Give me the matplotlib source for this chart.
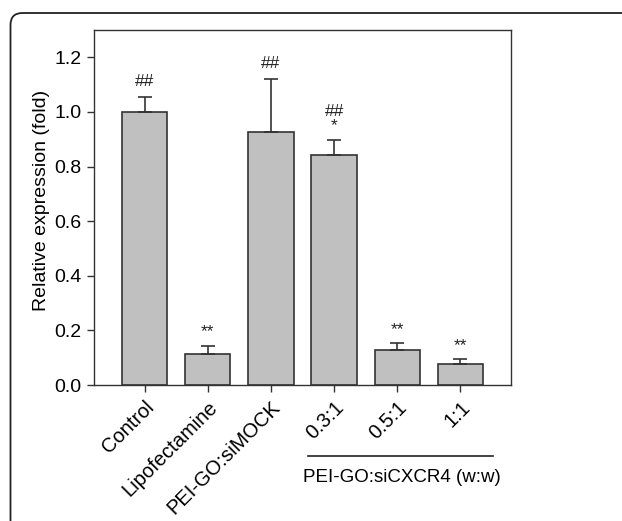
import matplotlib
matplotlib.use("Agg")
import matplotlib.pyplot as plt
from matplotlib.patches import FancyBboxPatch
from matplotlib.transforms import blended_transform_factory
import numpy as np

categories = ["Control", "Lipofectamine", "PEI-GO:siMOCK", "0.3:1", "0.5:1", "1:1"]
values = [1.0, 0.115, 0.927, 0.842, 0.128, 0.078]
errors = [0.055, 0.029, 0.193, 0.057, 0.026, 0.018]
marks = [["##"], ["**"], ["##"], ["*", "##"], ["**"], ["**"]]
yticks = [0.0, 0.2, 0.4, 0.6, 0.8, 1.0, 1.2]
group_label = "PEI-GO:siCXCR4 (w:w)"
ylabel = "Relative expression (fold)"

plt.rcParams['font.family'] = ['Liberation Sans', 'DejaVu Sans']

fig = plt.figure(figsize=(6.22, 5.21), dpi=100)
ax = fig.add_axes([0.1511, 0.261, 0.6704, 0.6814])

x = np.arange(len(categories))
ax.bar(x, values, width=0.72, color="#c0c0c0", edgecolor="#333333", linewidth=1.2, zorder=2)
ax.errorbar(x, values, yerr=[np.zeros(len(values)), errors], fmt="none",
            ecolor="#333333", elinewidth=1.2, capsize=5, capthick=1.2, zorder=3)

line_gap = 0.052
for xi, v, e, ms in zip(x, values, errors, marks):
    for k, m in enumerate(ms):
        gap = 0.058 if m == "##" else 0.05
        if k > 0:
            gap = 0.05 + k * line_gap
        ax.text(xi, v + e + gap, m, ha="center", va="center",
                fontsize=12.5, color="#222222")

ax.set_xlim(-0.8, 5.8)
ax.set_ylim(0, 1.3)
ax.set_yticks(yticks)
ax.set_yticklabels([f"{t:.1f}" for t in yticks], fontsize=14)
ax.set_xticks(x)
ax.set_xticklabels(categories, rotation=45, ha="right", rotation_mode="anchor", fontsize=14.5)
ax.tick_params(direction="out", length=5, width=1, color="#333333", pad=4)
for s in ax.spines.values():
    s.set_linewidth(1)
    s.set_color("#333333")
ax.set_ylabel(ylabel, fontsize=14)
ax.yaxis.set_label_coords(-0.105, 0.52)

# group line and label below rotated ticks
tr = blended_transform_factory(ax.transData, fig.transFigure)
line_y = 1 - 456 / 521
ax.plot([2.58, 5.52], [line_y, line_y], transform=tr, color="#222222", linewidth=1.2, clip_on=False)
ax.text(4.07, 1 - 477 / 521, group_label, transform=tr, ha="center", va="center", fontsize=13.5)

# rounded frame
frame = FancyBboxPatch((10.5, -30), 700, 508 + 30, boxstyle="round,pad=0,rounding_size=12",
                       transform=None, facecolor="none", edgecolor="#222222", linewidth=1.3)
fig.patches.append(frame)

fig.savefig("out.png", dpi=100)
